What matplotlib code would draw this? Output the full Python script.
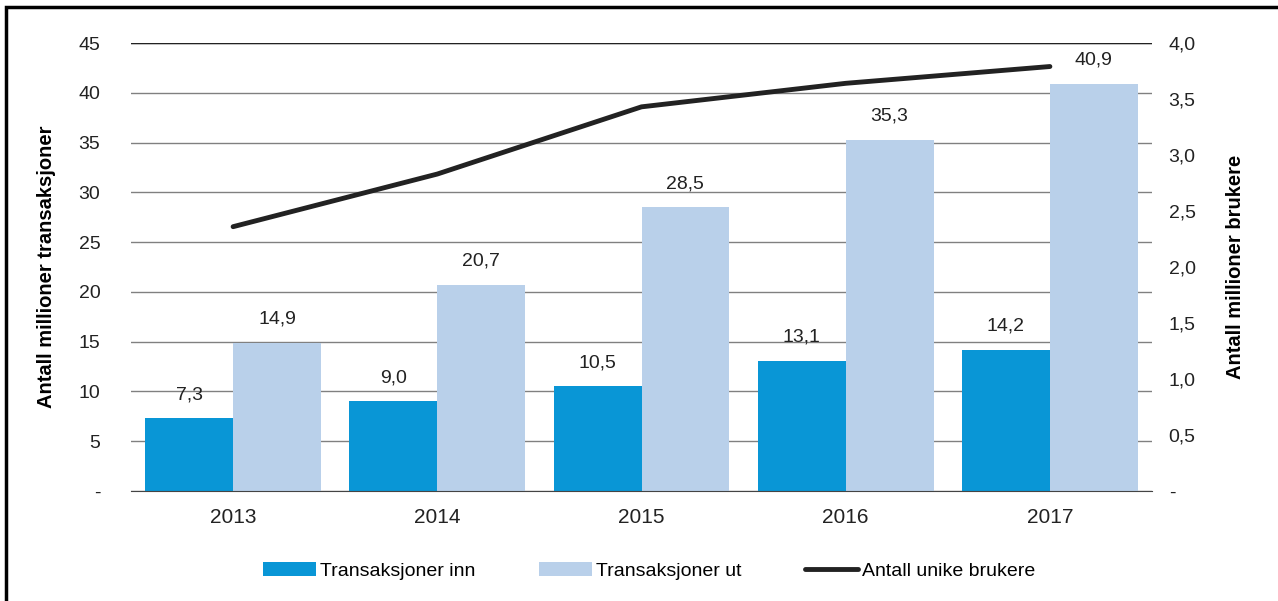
import matplotlib.pyplot as plt
import matplotlib.ticker as mticker
from matplotlib.patches import Rectangle
import numpy as np

plt.rcParams['font.family'] = ['Liberation Sans', 'DejaVu Sans']

years = ['2013', '2014', '2015', '2016', '2017']
trans_inn = [7.3, 9.0, 10.5, 13.1, 14.2]
trans_ut = [14.9, 20.7, 28.5, 35.3, 40.9]
brukere = [2.36, 2.83, 3.43, 3.64, 3.79]

c_inn = '#0996d6'
c_ut = '#b9d0ea'


def fmt_left(v, pos):
    return '-' if abs(v) < 1e-9 else f'{v:.0f}'


def fmt_right(v, pos):
    return '-' if abs(v) < 1e-9 else f'{v:.1f}'.replace('.', ',')


fig = plt.figure(figsize=(12.78, 6.01), dpi=100)
ax = fig.add_axes([131 / 1278, 1 - 491 / 601, (1152 - 131) / 1278, (491 - 43) / 601])
ax2 = ax.twinx()

x = np.arange(len(years))
w = 0.43
b1 = ax.bar(x - w / 2, trans_inn, w, color=c_inn, label='Transaksjoner inn', zorder=2)
b2 = ax.bar(x + w / 2, trans_ut, w, color=c_ut, label='Transaksjoner ut', zorder=2)
for rects, vals in ((b1, trans_inn), (b2, trans_ut)):
    for r, v in zip(rects, vals):
        ax.text(r.get_x() + r.get_width() / 2, v + 1.5, f'{v:.1f}'.replace('.', ','),
                ha='center', va='bottom', fontsize=14, color='#222222')

ln, = ax2.plot(x, brukere, color='#222222', lw=3.5, solid_capstyle='round',
               label='Antall unike brukere', zorder=5)

ax.set_xlim(-0.5, 4.5)
ax.set_ylim(0, 45)
ax2.set_ylim(0, 4.0)
ax.set_yticks(range(0, 46, 5))
ax2.set_yticks(np.arange(0, 4.01, 0.5))
ax.yaxis.set_major_formatter(mticker.FuncFormatter(fmt_left))
ax2.yaxis.set_major_formatter(mticker.FuncFormatter(fmt_right))
ax.set_xticks(x)
ax.set_xticklabels(years)

ax.grid(axis='y', color='#808080', lw=1, zorder=0)
ax.set_axisbelow(True)
ax.axhline(45, color='#222222', lw=1, zorder=1)
for a in (ax, ax2):
    for s in a.spines.values():
        s.set_visible(False)
    a.tick_params(length=0, labelsize=14, colors='#222222')
ax.spines['bottom'].set_visible(True)
ax.spines['bottom'].set_color('#444444')
ax.tick_params(axis='x', pad=12, labelsize=15)
ax.tick_params(axis='y', pad=22)
ax2.tick_params(axis='y', pad=12)

ax.set_ylabel('Antall millioner transaksjoner', fontsize=14.5, fontweight='bold', labelpad=16)
ax2.set_ylabel('Antall millioner brukere', fontsize=14.5, fontweight='bold', labelpad=22)

fig.legend(handles=[b1, b2, ln], loc='center', bbox_to_anchor=(649 / 1278, 1 - 571 / 601),
           ncol=3, frameon=False, fontsize=14, handlelength=2.7, handletextpad=0.2,
           columnspacing=3.3)

fig.patches.append(Rectangle((6 / 1278, -0.1), 1.2, 1 - 7 / 601 + 0.1, transform=fig.transFigure,
                             fill=False, edgecolor='black', lw=2.5))

fig.savefig('out.png', dpi=100)
